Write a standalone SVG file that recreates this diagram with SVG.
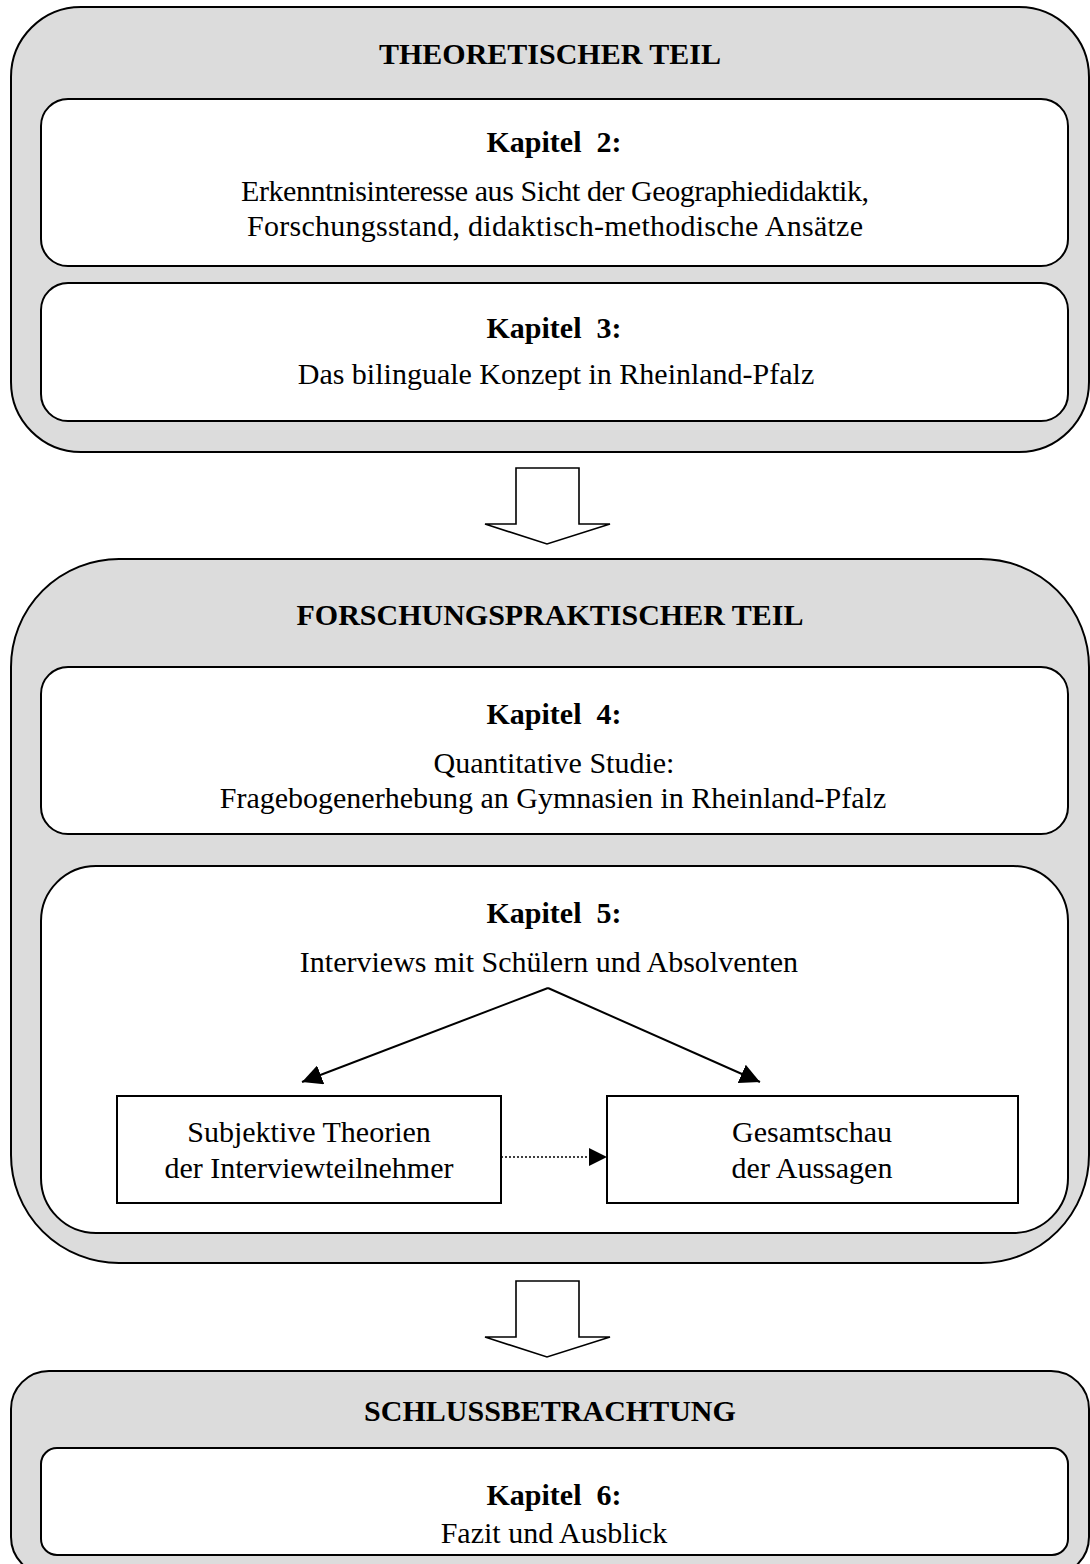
<svg xmlns="http://www.w3.org/2000/svg" width="1090" height="1564" viewBox="0 0 1090 1564">
  <style>
    .outer { fill: #dcdcdc; stroke: #000; stroke-width: 2; }
    .inner { fill: #fff; stroke: #000; stroke-width: 2; }
    .plain { fill: #fff; stroke: #000; stroke-width: 2; }
    .block { fill: #fff; stroke: #000; stroke-width: 1.6; stroke-linejoin: miter; }
    .t { font-family: "Liberation Serif", "Times New Roman", serif; font-size: 30px; fill: #000; text-anchor: middle; }
    .b { font-weight: bold; }
    .link { fill: none; stroke: #000; stroke-width: 2; }
    .dot { fill: none; stroke: #000; stroke-width: 1.6; stroke-dasharray: 2 2; }
  </style>
  <defs>
    <marker id="head" markerUnits="userSpaceOnUse" markerWidth="22" markerHeight="20" refX="20" refY="10" orient="auto">
      <path d="M0,0 L20,10 L0,20 Z" fill="#000"/>
    </marker>
  </defs>

  <rect width="1090" height="1564" fill="#fff"/>

  <!-- Theoretical part -->
  <g id="theoretischer-teil">
    <rect class="outer" x="11" y="7" width="1078" height="445" rx="70"/>
    <text class="t b" x="550" y="64">THEORETISCHER TEIL</text>
  </g>
  <g id="kapitel-2">
    <rect class="inner" x="41" y="99" width="1027" height="167" rx="27"/>
    <text class="t b" x="554" y="152" xml:space="preserve">Kapitel  2:</text>
    <text class="t" x="555" y="201" textLength="628" lengthAdjust="spacing">Erkenntnisinteresse aus Sicht der Geographiedidaktik,</text>
    <text class="t" x="555" y="236" textLength="616" lengthAdjust="spacing">Forschungsstand, didaktisch-methodische Ansätze</text>
  </g>
  <g id="kapitel-3">
    <rect class="inner" x="41" y="283" width="1027" height="138" rx="27"/>
    <text class="t b" x="554" y="338" xml:space="preserve">Kapitel  3:</text>
    <text class="t" x="556" y="384">Das bilinguale Konzept in Rheinland-Pfalz</text>
  </g>

  <!-- Research part -->
  <g id="forschungspraktischer-teil">
    <rect class="outer" x="11" y="559" width="1078" height="704" rx="108"/>
    <text class="t b" x="550" y="625">FORSCHUNGSPRAKTISCHER TEIL</text>
  </g>
  <g id="kapitel-4">
    <rect class="inner" x="41" y="667" width="1027" height="167" rx="27"/>
    <text class="t b" x="554" y="724" xml:space="preserve">Kapitel  4:</text>
    <text class="t" x="554" y="773">Quantitative Studie:</text>
    <text class="t" x="553" y="808">Fragebogenerhebung an Gymnasien in Rheinland-Pfalz</text>
  </g>
  <g id="kapitel-5">
    <rect class="inner" x="41" y="866" width="1027" height="367" rx="55"/>
    <text class="t b" x="554" y="923" xml:space="preserve">Kapitel  5:</text>
    <text class="t" x="549" y="972">Interviews mit Schülern und Absolventen</text>
  </g>
  <g id="subjektive-theorien">
    <rect class="plain" x="117" y="1096" width="384" height="107"/>
    <text class="t" x="309" y="1142">Subjektive Theorien</text>
    <text class="t" x="309" y="1178">der Interviewteilnehmer</text>
  </g>
  <g id="gesamtschau">
    <rect class="plain" x="607" y="1096" width="411" height="107"/>
    <text class="t" x="812" y="1142">Gesamtschau</text>
    <text class="t" x="812" y="1178">der Aussagen</text>
  </g>

  <!-- Conclusion -->
  <g id="schlussbetrachtung">
    <rect class="outer" x="11" y="1371" width="1078" height="204" rx="38"/>
    <text class="t b" x="550" y="1421">SCHLUSSBETRACHTUNG</text>
  </g>
  <g id="kapitel-6">
    <rect class="inner" x="41" y="1448" width="1027" height="107" rx="16"/>
    <text class="t b" x="554" y="1505" xml:space="preserve">Kapitel  6:</text>
    <text class="t" x="554" y="1543">Fazit und Ausblick</text>
  </g>

  <!-- Connectors -->
  <g id="connectors">
    <polygon class="block" points="516,468 579,468 579,524 610,524 547,544 485,524 516,524"/>
    <polygon class="block" points="516,1281 579,1281 579,1337 610,1337 547,1357 485,1337 516,1337"/>
    <path class="link" d="M548,988 L302,1082" marker-end="url(#head)"/>
    <path class="link" d="M548,988 L760,1082" marker-end="url(#head)"/>
    <path class="dot" d="M501,1157 L589,1157"/>
    <path d="M589,1148 L607,1157 L589,1166 Z" fill="#000"/>
  </g>
</svg>
